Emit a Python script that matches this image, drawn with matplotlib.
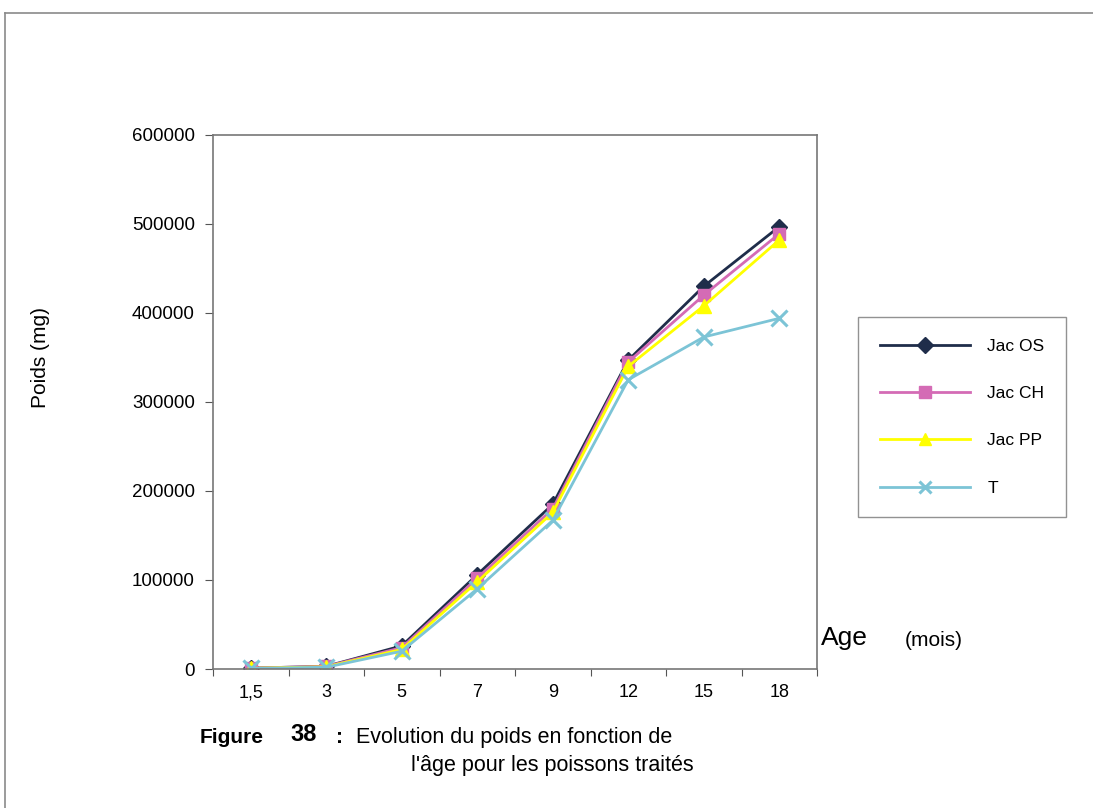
import matplotlib
matplotlib.use("Agg")
import matplotlib.pyplot as plt
from matplotlib.lines import Line2D
from matplotlib.ticker import FixedLocator, NullFormatter

plt.rcParams['font.family'] = ['Liberation Sans', 'DejaVu Sans']

# data
ages = ["1,5", "3", "5", "7", "9", "12", "15", "18"]
jac_os = [1000, 3000, 26000, 106000, 185000, 347000, 430000, 497000]
jac_ch = [1000, 3000, 24000, 102000, 180000, 345000, 420000, 489000]
jac_pp = [800, 2500, 22000, 98000, 176000, 340000, 408000, 482000]
temoin = [600, 2000, 20000, 90000, 167000, 325000, 373000, 394000]
series_names = ["Jac OS", "Jac CH", "Jac PP", "T"]
y_ticks = [0, 100000, 200000, 300000, 400000, 500000, 600000]

W, H = 1093, 808


def px(x, y):
    # pixel coords (from top-left) to figure fraction
    return x / W, 1 - y / H


fig = plt.figure(figsize=(W / 100, H / 100), dpi=100)
fig.patch.set_facecolor("white")

# outer page frame (top and left edges)
fig.add_artist(Line2D([5 / W, 1], [1 - 13 / H, 1 - 13 / H], color="#8a8a8a", lw=1.2))
fig.add_artist(Line2D([5 / W, 5 / W], [0, 1 - 13 / H], color="#8a8a8a", lw=1.2))

ax = fig.add_axes([213 / W, 1 - 669 / H, (817 - 213) / W, (669 - 135) / H])
xs = list(range(len(ages)))

styles = [
    (jac_os, "#1f2d4a", "D", 8),
    (jac_ch, "#d46bb5", "s", 8),
    (jac_pp, "#ffff00", "^", 10),
    (temoin, "#7cc4d6", "x", 11),
]
handles = []
for (vals, col, mk, ms), name in zip(styles, series_names):
    line, = ax.plot(xs, vals, color=col, lw=2.0, marker=mk, markersize=ms,
                    markeredgewidth=2.2 if mk == "x" else 1, markeredgecolor=col,
                    label=name)
    handles.append(line)

ax.set_xlim(-0.5, len(ages) - 0.5)
ax.set_ylim(0, 600000)
ax.yaxis.set_major_locator(FixedLocator(y_ticks))
ax.set_yticklabels([str(v) for v in y_ticks], fontsize=13.5)

ax.xaxis.set_major_locator(FixedLocator([i - 0.5 for i in range(len(ages) + 1)]))
ax.xaxis.set_major_formatter(NullFormatter())
ax.set_xticks(xs, minor=True)
ax.set_xticklabels(ages, minor=True, fontsize=13)
ax.tick_params(axis="x", which="minor", length=0, pad=11)
ax.tick_params(axis="x", which="major", length=5, color="#555555")
ax.tick_params(axis="y", length=6, color="#555555", pad=7)
for sp in ax.spines.values():
    sp.set_color("#777777")
    sp.set_linewidth(1.2)

fig.text(*px(40, 357), "Poids (mg)", rotation=90, fontsize=15,
         ha="center", va="center")
fig.text(*px(821, 638), "Age", fontsize=19, ha="left", va="center")
fig.text(*px(905, 640), "(mois)", fontsize=15, ha="left", va="center")

leg = fig.legend(handles=handles, loc="upper left",
                 bbox_to_anchor=px(858, 317), frameon=True, fancybox=False,
                 edgecolor="#777777", fontsize=12.5, handlelength=5.2,
                 labelspacing=1.85, borderpad=1.25, handletextpad=1.0,
                 borderaxespad=0)
leg.get_frame().set_linewidth(1.0)
for h in leg.legend_handles:
    h.set_markersize(8)

# caption
fig.text(*px(200, 743), "Figure", fontsize=15, fontweight="bold",
         ha="left", va="baseline")
fig.text(*px(290, 741), "38", fontsize=17, fontweight="bold",
         ha="left", va="baseline", fontstretch="condensed")
fig.text(*px(336, 743), ":", fontsize=15, fontweight="bold",
         ha="left", va="baseline")
fig.text(*px(356, 743), "Evolution du poids en fonction de", fontsize=15.5,
         ha="left", va="baseline")
fig.text(*px(552, 771), "l'âge pour les poissons traités", fontsize=15.5,
         ha="center", va="baseline")

fig.savefig("out.png", dpi=100, facecolor="white")
